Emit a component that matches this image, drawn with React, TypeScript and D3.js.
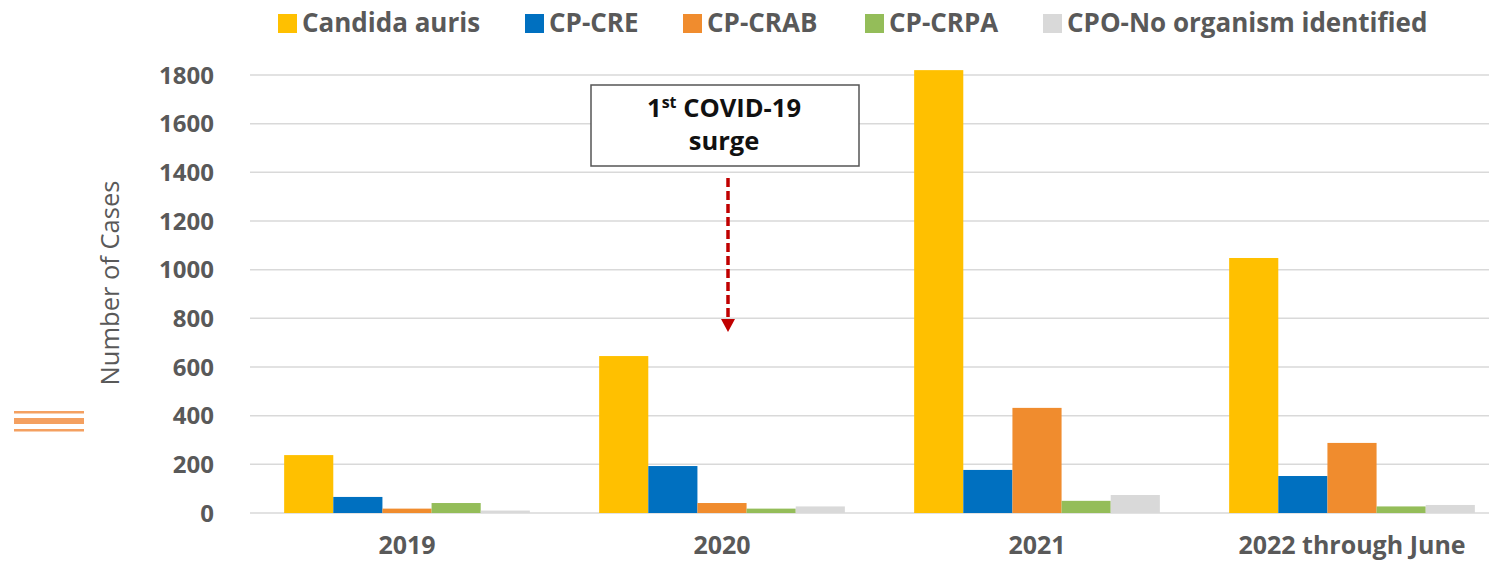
import React from "react";
import * as d3 from "d3";

const categories = ["2019", "2020", "2021", "2022 through June"];
const seriesNames = ["Candida auris", "CP-CRE", "CP-CRAB", "CP-CRPA", "CPO-No organism identified"];
const seriesColors = ["#FFC000", "#0070C0", "#F08C2E", "#94BD59", "#D9D9D9"];
const candidaAuris = [238, 645, 1820, 1048];
const cpCre = [66, 193, 177, 152];
const cpCrab = [18, 41, 432, 288];
const cpCrpa = [41, 18, 50, 27];
const cpoNone = [10, 27, 74, 33];
const seriesValues = [candidaAuris, cpCre, cpCrab, cpCrpa, cpoNone];
const yTicks = [0, 200, 400, 600, 800, 1000, 1200, 1400, 1600, 1800];
const legendX = [278, 525, 683, 865, 1043];

const W = 1489;
const H = 563;
const FONT = "'Open Sans', sans-serif";

export default function App() {
  const x0 = d3
    .scaleBand<string>()
    .domain(categories)
    .range([249.5, 1509.5])
    .paddingInner(0.22)
    .paddingOuter(0.11);
  const x1 = d3
    .scaleBand<string>()
    .domain(seriesNames)
    .range([0, x0.bandwidth()]);
  const y = d3.scaleLinear().domain([0, 1800]).range([513, 75]);

  const arrowX = 728;

  return (
    <svg
      width={W}
      height={H}
      style={{ position: "absolute", left: 0, top: 0, background: "#fff" }}
      fontFamily={FONT}
    >
      {/* gridlines */}
      {yTicks.map((t) => (
        <line key={t} x1={250} x2={W} y1={y(t)} y2={y(t)} stroke="#D9D9D9" strokeWidth={1.5} />
      ))}
      {/* y tick labels */}
      {yTicks.map((t) => (
        <text
          key={"l" + t}
          x={214}
          y={y(t)}
          dy="0.36em"
          textAnchor="end"
          fontSize={24}
          fontWeight="bold"
          fill="#595959"
        >
          {t}
        </text>
      ))}
      {/* y title */}
      <text
        transform={`translate(119,283) rotate(-90)`}
        textAnchor="middle"
        fontSize={25.5}
        fill="#595959"
      >
        Number of Cases
      </text>
      {/* bars */}
      {categories.map((c, ci) => (
        <g key={c} transform={`translate(${x0(c)},0)`}>
          {seriesNames.map((s, si) => (
            <rect
              key={s}
              x={x1(s)}
              y={y(seriesValues[si][ci])}
              width={x1.bandwidth()}
              height={y(0) - y(seriesValues[si][ci])}
              fill={seriesColors[si]}
            />
          ))}
        </g>
      ))}
      {/* x labels */}
      {categories.map((c) => (
        <text
          key={"x" + c}
          x={(x0(c) as number) + x0.bandwidth() / 2}
          y={554}
          textAnchor="middle"
          fontSize={25}
          fontWeight="bold"
          fill="#595959"
        >
          {c}
        </text>
      ))}
      {/* legend */}
      {seriesNames.map((s, i) => (
        <g key={"lg" + s} transform={`translate(${legendX[i]},0)`}>
          <rect x={0} y={14} width={19} height={19} fill={seriesColors[i]} />
          <text x={24} y={23} dy="0.36em" fontSize={26} fontWeight="bold" fill="#595959">
            {s}
          </text>
        </g>
      ))}
      {/* annotation box */}
      <rect x={591} y={85} width={268} height={81} fill="#fff" stroke="#555" strokeWidth={1.5} />
      <text x={724} y={117} textAnchor="middle" fontSize={25.5} fontWeight="bold" fill="#111">
        1<tspan fontSize={16} dy={-9}>st</tspan>
        <tspan dy={9}> COVID-19</tspan>
      </text>
      <text x={724} y={150} textAnchor="middle" fontSize={25.5} fontWeight="bold" fill="#111">
        surge
      </text>
      {/* dashed arrow */}
      <line
        x1={arrowX}
        x2={arrowX}
        y1={178}
        y2={319}
        stroke="#C00000"
        strokeWidth={3.5}
        strokeDasharray="9,4"
      />
      <path d={`M${arrowX - 7},319 L${arrowX + 7},319 L${arrowX},332 z`} fill="#C00000" />
      {/* orange triple lines */}
      <rect x={14} y={411} width={70} height={2.5} fill="#F4A060" />
      <rect x={14} y={418} width={70} height={6} fill="#F4A060" />
      <rect x={14} y={429} width={70} height={2.5} fill="#F4A060" />
    </svg>
  );
}
